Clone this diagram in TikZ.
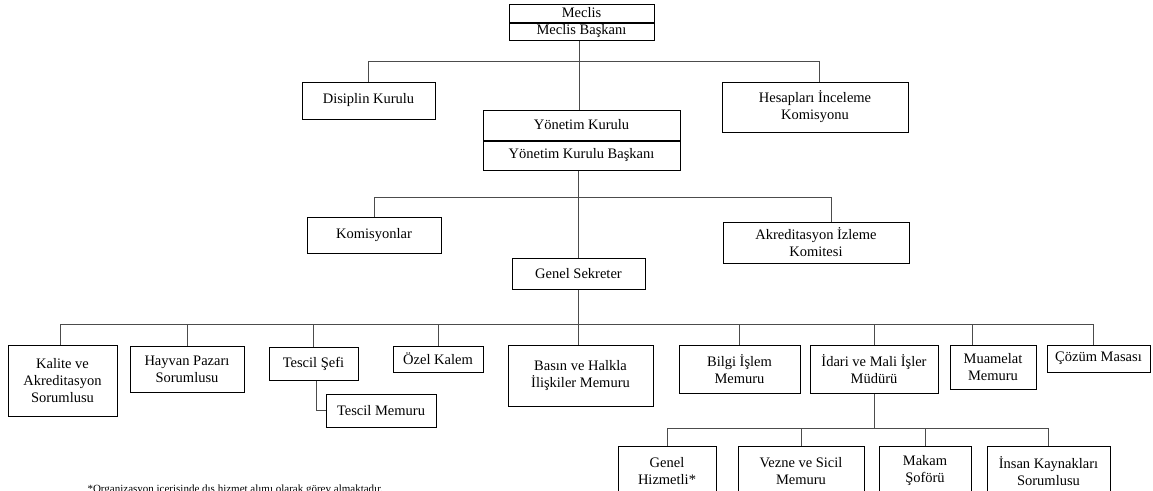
\documentclass[tikz,border=0pt]{standalone}
\usepackage{fontspec}
\setmainfont{Liberation Serif}
\usepackage{tikz}
\usetikzlibrary{positioning,calc}

\begin{document}
\begin{tikzpicture}[
        x=1pt, y=-1pt,
        box/.style={draw=black, line width=1pt, rectangle, inner sep=0pt,
            align=center, font=\fontsize{14.5}{17}\selectfont},
        ln/.style={black!70, line width=0.9pt},
        every node/.style={color=black},
    ]
    \useasboundingbox (0,0) rectangle (1153,490);
    % top
    \node[box, minimum width=145, minimum height=18] (mec) at (581.5,13) {Meclis};
    \node[box, minimum width=145, minimum height=17, below=0pt of mec] (mecb) {Meclis Başkanı};
    \node[box, minimum width=133, minimum height=37] (disiplin) at (368.5,100.5) {Disiplin Kurulu};
    \node[box, minimum width=186, minimum height=50] (hesap) at (815,107) {Hesapları İnceleme\\Komisyonu};
    \node[box, minimum width=197, minimum height=30] (yk) at (581.5,125) {Yönetim Kurulu};
    \node[box, minimum width=197, minimum height=29, below=0pt of yk] (ykb) {Yönetim Kurulu Başkanı};
    % middle
    \node[box, minimum width=134, minimum height=36] (komis) at (374,235) {Komisyonlar};
    \node[box, minimum width=186, minimum height=41] (akred) at (816,242.5) {Akreditasyon İzleme\\Komitesi};
    \node[box, minimum width=133, minimum height=31] (gs) at (578.5,273.5) {Genel Sekreter};
    % bottom row
    \node[box, minimum width=109, minimum height=71] (kalite) at (62.5,380.5) {Kalite ve\\Akreditasyon\\Sorumlusu};
    \node[box, minimum width=114, minimum height=46] (hayvan) at (187,369) {Hayvan Pazarı\\Sorumlusu};
    \node[box, minimum width=89, minimum height=33] (tsef) at (313.5,363.5) {Tescil Şefi};
    \node[box, minimum width=110, minimum height=33] (tmem) at (381,410.5) {Tescil Memuru};
    \node[box, minimum width=90, minimum height=26] (ozel) at (438,359) {Özel Kalem};
    \node[box, minimum width=145, minimum height=61] (basin) at (580.5,375.5) {Basın ve Halkla\\İlişkiler Memuru};
    \node[box, minimum width=121, minimum height=48] (bilgi) at (739.5,369) {Bilgi İşlem\\Memuru};
    \node[box, minimum width=128, minimum height=48] (idari) at (874,369) {İdari ve Mali İşler\\Müdürü};
    \node[box, minimum width=86, minimum height=44] (muamelat) at (993,367) {Muamelat\\Memuru};
    \node[box, minimum width=103, minimum height=27] (cozum) at (1098.5,358.5) {Çözüm Masası};
    % under idari
    \node[box, minimum width=98, minimum height=50] (genelh) at (667,471) {Genel\\Hizmetli*};
    \node[box, minimum width=126, minimum height=50] (vezne) at (801,471) {Vezne ve Sicil\\Memuru};
    \node[box, minimum width=92, minimum height=50] (makam) at (925,471) {Makam\\Şoförü};
    \node[box, minimum width=123, minimum height=50] (insan) at (1048.5,471) {İnsan Kaynakları\\Sorumlusu};
    % connectors
    \coordinate (b3) at (0,324);
    \coordinate (b4) at (0,428);
    \draw[ln] ([xshift=-2]mecb.south) -- ([xshift=-2]yk.north);
    \draw[ln] (disiplin.north) -- ++(0,-20) -| ([xshift=4]hesap.north);
    \draw[ln] (ykb.south -| gs.north) -- (gs.north);
    \draw[ln] (komis.north) -- ++(0,-19) -| ([xshift=15]akred.north);
    \draw[ln] (gs.south) -- (gs.south |- basin.north);
    \draw[ln] ([xshift=-2]kalite.north) -- ([xshift=-2]kalite.north |- b3) -| ([xshift=-5]cozum.north);
    \foreach \n in {hayvan,tsef,ozel,bilgi,idari}
        \draw[ln] (\n.north) -- (\n.north |- b3);
    \draw[ln] ([xshift=-21]muamelat.north) -- ([xshift=-21]muamelat.north |- b3);
    \draw[ln] ([xshift=3]tsef.south) |- (tmem.west);
    \draw[ln] (idari.south) -- (idari.south |- b4);
    \draw[ln] (genelh.north) -- (genelh.north |- b4) -| (insan.north);
    \foreach \n in {vezne,makam}
        \draw[ln] (\n.north) -- (\n.north |- b4);
    % footnote
    \node[anchor=base west, font=\fontsize{11}{13}\selectfont] (note) at (84,492)
        {*Organizasyon içerisinde dış hizmet alımı olarak görev almaktadır.};
\end{tikzpicture}
\end{document}
